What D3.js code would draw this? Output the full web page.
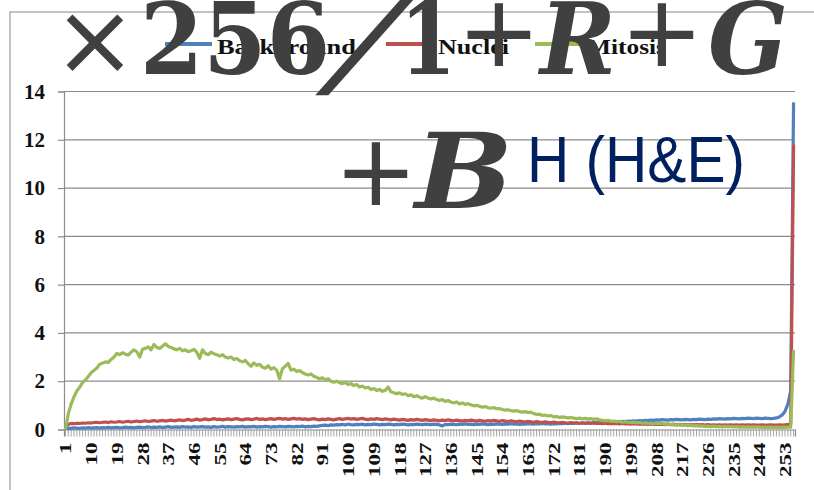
<!DOCTYPE html>
<html>
<head>
<meta charset="utf-8">
<script src="https://cdn.jsdelivr.net/npm/d3@7"></script>
<style>
  body { margin: 0; background: #fff; }
  svg { display: block; }
</style>
</head>
<body>
<svg id="chart"></svg>
<script>
// categories 1..256 (intensity bins)
const categories = d3.range(1, 257);
const tickLabels = [1, 10, 19, 28, 37, 46, 55, 64, 73, 82, 91, 100, 109, 118, 127, 136, 145, 154, 163, 172, 181, 190, 199, 208, 217, 226, 235, 244, 253];
const yTicks = [0, 2, 4, 6, 8, 10, 12, 14];
const seriesNames = ["Background", "Nuclei", "Mitosis"];
const seriesColors = ["#4f81bd", "#c0504d", "#9bbb59"];

const background = [
  0.05, 0.06, 0.05, 0.07, 0.06, 0.05, 0.07, 0.06, 0.08, 0.06, 0.07, 0.08, 0.06, 0.08, 0.07, 0.09,
  0.07, 0.08, 0.09, 0.07, 0.08, 0.10, 0.08, 0.09, 0.07, 0.09, 0.10, 0.08, 0.09, 0.11, 0.08, 0.10,
  0.09, 0.11, 0.08, 0.10, 0.12, 0.09, 0.10, 0.11, 0.09, 0.12, 0.10, 0.11, 0.09, 0.12, 0.10, 0.11,
  0.12, 0.10, 0.11, 0.09, 0.12, 0.10, 0.11, 0.13, 0.10, 0.12, 0.11, 0.10, 0.12, 0.11, 0.13, 0.10,
  0.12, 0.11, 0.13, 0.10, 0.12, 0.11, 0.13, 0.12, 0.10, 0.12, 0.11, 0.13, 0.12, 0.11, 0.13, 0.12,
  0.11, 0.13, 0.12, 0.14, 0.11, 0.13, 0.12, 0.14, 0.13, 0.15, 0.17, 0.18, 0.16, 0.19, 0.18, 0.20,
  0.19, 0.21, 0.19, 0.22, 0.20, 0.19, 0.21, 0.20, 0.22, 0.19, 0.21, 0.20, 0.22, 0.21, 0.19, 0.21,
  0.20, 0.22, 0.21, 0.19, 0.21, 0.20, 0.22, 0.21, 0.19, 0.21, 0.20, 0.22, 0.21, 0.20, 0.22, 0.21,
  0.20, 0.22, 0.21, 0.19, 0.15, 0.21, 0.20, 0.22, 0.21, 0.20, 0.22, 0.21, 0.23, 0.21, 0.22, 0.20,
  0.22, 0.21, 0.23, 0.22, 0.20, 0.22, 0.21, 0.23, 0.22, 0.21, 0.23, 0.22, 0.24, 0.22, 0.23, 0.21,
  0.23, 0.22, 0.24, 0.23, 0.22, 0.24, 0.23, 0.25, 0.23, 0.24, 0.22, 0.24, 0.23, 0.25, 0.24, 0.26,
  0.24, 0.26, 0.25, 0.27, 0.25, 0.27, 0.26, 0.28, 0.27, 0.29, 0.28, 0.30, 0.29, 0.31, 0.30, 0.32,
  0.31, 0.33, 0.32, 0.34, 0.33, 0.35, 0.34, 0.36, 0.35, 0.37, 0.36, 0.38, 0.37, 0.39, 0.38, 0.40,
  0.39, 0.41, 0.40, 0.39, 0.41, 0.40, 0.42, 0.41, 0.40, 0.42, 0.41, 0.40, 0.42, 0.41, 0.43, 0.42,
  0.41, 0.43, 0.42, 0.44, 0.43, 0.45, 0.44, 0.43, 0.45, 0.44, 0.46, 0.45, 0.44, 0.46, 0.45, 0.47,
  0.46, 0.45, 0.47, 0.46, 0.45, 0.47, 0.46, 0.45, 0.46, 0.48, 0.52, 0.60, 0.75, 1.05, 1.60, 13.55
];

const nuclei = [
  0.10, 0.22, 0.25, 0.24, 0.26, 0.25, 0.27, 0.26, 0.28, 0.27, 0.29, 0.30, 0.28, 0.30, 0.31, 0.29,
  0.32, 0.30, 0.31, 0.33, 0.30, 0.32, 0.34, 0.31, 0.33, 0.35, 0.32, 0.34, 0.36, 0.33, 0.35, 0.37,
  0.34, 0.36, 0.38, 0.35, 0.37, 0.39, 0.36, 0.38, 0.40, 0.37, 0.39, 0.42, 0.38, 0.40, 0.43, 0.39,
  0.41, 0.44, 0.40, 0.42, 0.45, 0.41, 0.43, 0.40, 0.42, 0.44, 0.41, 0.43, 0.45, 0.42, 0.40, 0.43,
  0.44, 0.41, 0.43, 0.46, 0.42, 0.44, 0.41, 0.43, 0.45, 0.42, 0.44, 0.46, 0.43, 0.45, 0.42, 0.44,
  0.46, 0.43, 0.45, 0.42, 0.44, 0.41, 0.43, 0.45, 0.42, 0.40, 0.43, 0.41, 0.44, 0.42, 0.40, 0.43,
  0.45, 0.42, 0.44, 0.46, 0.43, 0.45, 0.42, 0.44, 0.46, 0.43, 0.41, 0.44, 0.42, 0.45, 0.43, 0.41,
  0.44, 0.42, 0.40, 0.43, 0.41, 0.39, 0.42, 0.40, 0.38, 0.41, 0.39, 0.42, 0.40, 0.38, 0.41, 0.39,
  0.37, 0.40, 0.38, 0.36, 0.39, 0.37, 0.40, 0.38, 0.36, 0.39, 0.37, 0.35, 0.38, 0.36, 0.39, 0.37,
  0.35, 0.38, 0.36, 0.34, 0.37, 0.35, 0.38, 0.36, 0.34, 0.37, 0.35, 0.33, 0.36, 0.34, 0.32, 0.35,
  0.33, 0.31, 0.34, 0.32, 0.30, 0.33, 0.31, 0.30, 0.32, 0.30, 0.29, 0.31, 0.29, 0.28, 0.30, 0.28,
  0.27, 0.29, 0.27, 0.28, 0.26, 0.28, 0.26, 0.27, 0.25, 0.27, 0.25, 0.26, 0.24, 0.26, 0.24, 0.25,
  0.24, 0.25, 0.23, 0.25, 0.23, 0.24, 0.22, 0.24, 0.22, 0.23, 0.22, 0.23, 0.21, 0.23, 0.21, 0.22,
  0.21, 0.22, 0.20, 0.22, 0.20, 0.21, 0.20, 0.21, 0.19, 0.21, 0.19, 0.20, 0.19, 0.20, 0.19, 0.20,
  0.18, 0.20, 0.18, 0.19, 0.18, 0.19, 0.18, 0.19, 0.18, 0.19, 0.18, 0.19, 0.18, 0.19, 0.18, 0.19,
  0.18, 0.19, 0.18, 0.18, 0.19, 0.18, 0.18, 0.19, 0.18, 0.18, 0.19, 0.18, 0.19, 0.20, 0.25, 11.80
];

const mitosis = [
  0.00, 0.65, 1.05, 1.35, 1.60, 1.75, 1.95, 2.05, 2.20, 2.35, 2.45, 2.55, 2.70, 2.75, 2.80, 2.78,
  2.90, 3.00, 3.15, 3.10, 3.18, 3.12, 3.08, 3.20, 3.30, 3.22, 3.00, 3.32, 3.36, 3.42, 3.30, 3.52,
  3.40, 3.36, 3.45, 3.55, 3.44, 3.40, 3.34, 3.30, 3.36, 3.26, 3.30, 3.22, 3.26, 3.32, 3.20, 2.95,
  3.30, 3.15, 3.10, 3.20, 3.14, 3.10, 3.04, 3.10, 3.00, 2.96, 3.00, 2.90, 2.94, 2.85, 2.80, 2.86,
  2.72, 2.62, 2.76, 2.66, 2.70, 2.58, 2.54, 2.64, 2.50, 2.56, 2.46, 2.10, 2.52, 2.62, 2.74, 2.46,
  2.50, 2.40, 2.44, 2.36, 2.30, 2.26, 2.30, 2.20, 2.16, 2.10, 2.14, 2.05, 2.10, 2.00, 1.96, 2.00,
  1.94, 1.90, 1.95, 1.86, 1.90, 1.82, 1.86, 1.76, 1.80, 1.72, 1.75, 1.66, 1.70, 1.62, 1.66, 1.58,
  1.62, 1.76, 1.56, 1.52, 1.48, 1.52, 1.45, 1.48, 1.40, 1.44, 1.36, 1.40, 1.34, 1.30, 1.36, 1.30,
  1.26, 1.30, 1.24, 1.20, 1.24, 1.16, 1.20, 1.14, 1.10, 1.14, 1.06, 1.10, 1.04, 1.07, 1.02, 0.98,
  1.00, 0.96, 0.92, 0.95, 0.90, 0.88, 0.91, 0.86, 0.87, 0.83, 0.80, 0.82, 0.78, 0.76, 0.78, 0.74,
  0.72, 0.74, 0.70, 0.72, 0.66, 0.62, 0.64, 0.58, 0.60, 0.56, 0.58, 0.52, 0.54, 0.50, 0.52, 0.50,
  0.48, 0.50, 0.47, 0.45, 0.47, 0.44, 0.46, 0.43, 0.45, 0.42, 0.44, 0.40, 0.38, 0.36, 0.38, 0.34,
  0.35, 0.32, 0.34, 0.30, 0.32, 0.30, 0.28, 0.30, 0.27, 0.29, 0.26, 0.28, 0.25, 0.27, 0.24, 0.26,
  0.24, 0.25, 0.22, 0.24, 0.20, 0.22, 0.18, 0.20, 0.17, 0.19, 0.16, 0.18, 0.15, 0.16, 0.14, 0.15,
  0.13, 0.14, 0.12, 0.14, 0.12, 0.13, 0.11, 0.13, 0.12, 0.12, 0.11, 0.12, 0.10, 0.11, 0.10, 0.11,
  0.10, 0.11, 0.10, 0.10, 0.09, 0.10, 0.09, 0.10, 0.09, 0.10, 0.09, 0.10, 0.09, 0.10, 0.10, 3.30
];

const seriesData = [background, nuclei, mitosis];

let width = 814, height = 490;
let plot = {left: 64, right: 795, top: 91.5, bottom: 429.5};

let svg = d3.select("#chart")
  .attr("width", width)
  .attr("height", height);

// outer chart frame
svg.append("rect")
  .attr("x", 10)
  .attr("y", 12)
  .attr("width", 830)
  .attr("height", 500)
  .attr("fill", "#fff")
  .attr("stroke", "#9a9a9a")
  .attr("stroke-width", 1.2);

let x = d3.scaleBand()
  .domain(categories)
  .range([plot.left, plot.right]);

let y = d3.scaleLinear()
  .domain([0, 14])
  .range([plot.bottom, plot.top]);

// gridlines
svg.append("g")
  .selectAll("line")
  .data(yTicks.filter(d => d > 0))
  .join("line")
  .attr("x1", plot.left)
  .attr("x2", plot.right)
  .attr("y1", d => y(d))
  .attr("y2", d => y(d))
  .attr("stroke", "#8c8c8c")
  .attr("stroke-width", 1.2);

// y axis
let yAxis = svg.append("g")
  .attr("transform", `translate(${plot.left},0)`)
  .call(d3.axisLeft(y).tickValues(yTicks).tickSize(6).tickPadding(13).tickFormat(d3.format("d")));
yAxis.select(".domain").attr("stroke", "#8c8c8c").attr("stroke-width", 1.2);
yAxis.selectAll(".tick line").attr("stroke", "#8c8c8c").attr("stroke-width", 1.2);
yAxis.selectAll(".tick text")
  .attr("font-family", "Liberation Serif, Times New Roman, serif")
  .attr("font-weight", "bold")
  .attr("font-size", 21)
  .attr("fill", "#111");

// x axis: a tick for every category
let xAxis = svg.append("g")
  .attr("transform", `translate(0,${plot.bottom})`)
  .call(d3.axisBottom(x).tickSize(7).tickFormat(""));
xAxis.select(".domain").attr("stroke", "#8c8c8c").attr("stroke-width", 1.2);
xAxis.selectAll(".tick line").attr("stroke", "#9a9a9a").attr("stroke-width", 0.9);

// x axis labels
let xLabels = svg.append("g")
  .attr("transform", `translate(0,${plot.bottom})`)
  .call(d3.axisBottom(x).tickValues(tickLabels).tickSize(0).tickFormat(d => d));
xLabels.select(".domain").remove();
xLabels.selectAll(".tick text")
  .attr("font-family", "Liberation Serif, Times New Roman, serif")
  .attr("font-weight", "bold")
  .attr("font-size", 17)
  .attr("fill", "#111")
  .attr("text-anchor", "end")
  .attr("dy", null)
  .attr("transform", "translate(6,13) rotate(-90)")
  .attr("x", 0)
  .attr("y", 0)
  .attr("textLength", d => String(d).length * 11.5)
  .attr("lengthAdjust", "spacingAndGlyphs");

// lines
let line = d3.line()
  .x((d, i) => x(categories[i]) + x.bandwidth() / 2)
  .y(d => y(d));

svg.append("g")
  .selectAll("path")
  .data(seriesData)
  .join("path")
  .attr("d", d => line(d))
  .attr("fill", "none")
  .attr("stroke", (d, i) => seriesColors[i])
  .attr("stroke-width", 3.2)
  .attr("stroke-linejoin", "round");

// legend
let legendX = [165, 386, 535];
let legendW = [139, 71, 79];
let legend = svg.append("g")
  .selectAll("g")
  .data(seriesNames)
  .join("g")
  .attr("transform", (d, i) => `translate(${legendX[i]},44)`);
legend.append("line")
  .attr("x1", 0).attr("x2", 47)
  .attr("stroke", (d, i) => seriesColors[i])
  .attr("stroke-width", 4);
legend.append("text")
  .attr("x", 52)
  .attr("y", 10)
  .attr("font-family", "Liberation Serif, Times New Roman, serif")
  .attr("font-weight", "bold")
  .attr("font-size", 22)
  .attr("fill", "#111")
  .attr("textLength", (d, i) => legendW[i])
  .attr("lengthAdjust", "spacingAndGlyphs")
  .text(d => d);

// formula overlay
let over = svg.append("g").attr("fill", "#404040");
let serifBold = "DejaVu Serif, serif";
let sans = "DejaVu Sans, sans-serif";

over.append("text").attr("x", 95).attr("y", 74).attr("text-anchor", "middle")
  .attr("font-family", sans).attr("font-size", 100).text("×");
over.append("text").attr("x", 140).attr("y", 74)
  .attr("font-family", serifBold).attr("font-weight", "bold").attr("font-size", 100)
  .attr("textLength", 190).attr("lengthAdjust", "spacingAndGlyphs").text("256");
over.append("text").attr("text-anchor", "middle")
  .attr("transform", "translate(344,84) skewX(-30)")
  .attr("font-family", serifBold).attr("font-weight", "bold").attr("font-size", 122)
  .text("/");
over.append("text").attr("x", 400).attr("y", 74)
  .attr("font-family", serifBold).attr("font-weight", "bold").attr("font-size", 100)
  .attr("textLength", 56).attr("lengthAdjust", "spacingAndGlyphs").text("1");
over.append("text").attr("x", 499).attr("y", 66).attr("text-anchor", "middle")
  .attr("font-family", sans).attr("font-size", 100).text("+");
over.append("text").attr("x", 540).attr("y", 74)
  .attr("font-family", serifBold).attr("font-weight", "bold").attr("font-style", "italic").attr("font-size", 100)
  .attr("textLength", 76).attr("lengthAdjust", "spacingAndGlyphs").text("R");
over.append("text").attr("x", 662).attr("y", 66).attr("text-anchor", "middle")
  .attr("font-family", sans).attr("font-size", 100).text("+");
over.append("text").attr("x", 708).attr("y", 74)
  .attr("font-family", serifBold).attr("font-weight", "bold").attr("font-style", "italic").attr("font-size", 100)
  .attr("textLength", 80).attr("lengthAdjust", "spacingAndGlyphs").text("G");
over.append("text").attr("x", 376).attr("y", 205).attr("text-anchor", "middle")
  .attr("font-family", sans).attr("font-size", 100).text("+");
over.append("text").attr("x", 415).attr("y", 208)
  .attr("font-family", serifBold).attr("font-weight", "bold").attr("font-style", "italic").attr("font-size", 105)
  .attr("textLength", 98).attr("lengthAdjust", "spacingAndGlyphs").text("B");

svg.append("text")
  .attr("x", 527)
  .attr("y", 182)
  .attr("font-family", "Liberation Sans, Arial, sans-serif")
  .attr("font-size", 64)
  .attr("fill", "#002060")
  .attr("textLength", 218)
  .attr("lengthAdjust", "spacingAndGlyphs")
  .text("H (H&E)");
</script>
</body>
</html>
